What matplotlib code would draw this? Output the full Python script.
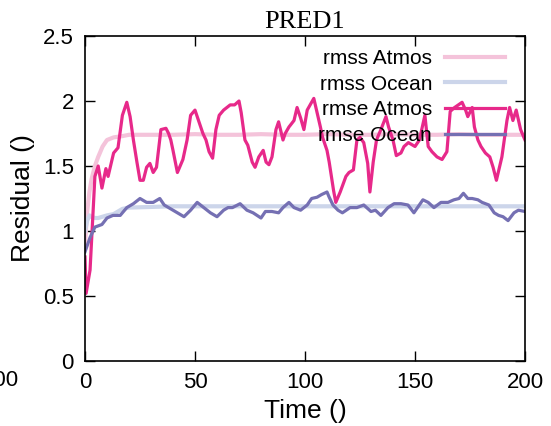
import matplotlib
matplotlib.use("Agg")
import matplotlib.pyplot as plt

# ensemble spread (rmss) - smooth curves
rmss_t = [0, 1, 2, 3, 4.5, 6, 8, 10, 13, 17, 20, 30, 40, 50, 60, 70, 80, 90, 100,
          110, 120, 130, 140, 150, 160, 170, 180, 190, 200]
rmss_atmos = [0.9, 1.15, 1.3, 1.4, 1.5, 1.57, 1.65, 1.70, 1.72, 1.73, 1.74, 1.74, 1.74,
              1.745, 1.74, 1.74, 1.745, 1.74, 1.74, 1.745, 1.74, 1.74, 1.745, 1.74,
              1.74, 1.745, 1.74, 1.74, 1.74]
rmss_ocean = [1.0, 1.08, 1.12, 1.11, 1.10, 1.10, 1.11, 1.12, 1.13, 1.17, 1.18, 1.185,
              1.19, 1.19, 1.19, 1.19, 1.19, 1.19, 1.19, 1.19, 1.19, 1.19, 1.19, 1.19,
              1.19, 1.19, 1.19, 1.19, 1.19]

# rmse Atmos
atm_t = [0, 0.5, 2.3, 4.5, 6, 7.7, 9.5, 10.5, 13, 15, 17, 19, 20.5, 22, 23.6, 25, 26.5,
         28, 29.5, 31, 32.5, 34.5, 36.8, 38, 39, 40, 42, 44.5, 46.4, 48, 50, 51, 53.6,
         55, 56.4, 58, 59.5, 61, 63, 66, 68, 70, 71, 72.7, 74, 76, 77.3, 79, 81, 82.3,
         83.6, 85, 86.8, 88, 90, 91, 92.7, 95, 96.4, 98, 99.5, 101, 104, 105.5, 107,
         108, 110, 111, 113, 114, 116, 118.6, 120, 122, 123.6, 125, 126.7, 128.5,
         129.5, 131, 132.5, 134.5, 136.8, 138, 140, 141.5, 143.6, 145, 147, 150, 152,
         154.5, 156, 157.7, 160, 162.3, 164.5, 166, 168, 171.4, 173, 174, 176, 177,
         178.6, 180, 182, 184, 185.5, 187, 189.5, 191.8, 193, 194.5, 196, 198, 200]
atm_v = [0.8, 0.52, 0.7, 1.42, 1.5, 1.33, 1.48, 1.42, 1.6, 1.64, 1.89, 1.99, 1.88, 1.70,
         1.53, 1.39, 1.39, 1.49, 1.52, 1.45, 1.49, 1.78, 1.79, 1.75, 1.70, 1.62, 1.45,
         1.55, 1.70, 1.89, 1.93, 1.88, 1.75, 1.70, 1.61, 1.56, 1.78, 1.89, 1.93, 1.97,
         1.97, 2.0, 1.91, 1.70, 1.66, 1.53, 1.49, 1.57, 1.62, 1.53, 1.51, 1.57, 1.78,
         1.84, 1.70, 1.75, 1.80, 1.85, 1.95, 1.87, 1.78, 1.93, 2.02, 1.91, 1.80, 1.72,
         1.62, 1.53, 1.31, 1.22, 1.30, 1.42, 1.45, 1.47, 1.70, 1.72, 1.68, 1.52, 1.30,
         1.53, 1.70, 1.78, 1.88, 1.80, 1.70, 1.58, 1.60, 1.65, 1.68, 1.65, 1.70, 1.89,
         1.65, 1.61, 1.57, 1.55, 1.61, 1.92, 1.95, 1.99, 1.93, 1.88, 1.95, 1.80, 1.70,
         1.65, 1.60, 1.57, 1.49, 1.39, 1.57, 1.85, 1.95, 1.85, 1.93, 1.78, 1.70]

# rmse Ocean
ocn_t = [0, 2.3, 4.5, 7.7, 10, 12.7, 16, 19, 22, 25, 28, 31, 34, 36, 40, 42, 45, 48, 51,
         54, 57, 60, 63, 65, 67, 70.5, 73.6, 76.4, 80, 82, 85, 88, 90, 92.7, 95, 98,
         101, 103, 105.5, 107.5, 110, 111, 112.7, 115, 117, 120.5, 123.6, 126.7, 130,
         132, 134.5, 137.7, 140.5, 143.6, 146.8, 149.5, 153.6, 156, 158.6, 161.8, 165,
         167.7, 170, 172, 174, 176, 178.6, 180.5, 183.6, 186, 188, 190, 192.3, 195,
         197, 200]
ocn_v = [0.84, 0.95, 1.03, 1.05, 1.10, 1.12, 1.12, 1.18, 1.21, 1.25, 1.22, 1.22, 1.25,
         1.20, 1.16, 1.14, 1.11, 1.16, 1.22, 1.18, 1.14, 1.11, 1.16, 1.18, 1.18, 1.21,
         1.16, 1.14, 1.10, 1.15, 1.15, 1.14, 1.18, 1.22, 1.18, 1.16, 1.20, 1.25, 1.26,
         1.28, 1.30, 1.26, 1.20, 1.16, 1.14, 1.18, 1.18, 1.20, 1.15, 1.16, 1.12, 1.18,
         1.21, 1.21, 1.20, 1.14, 1.24, 1.22, 1.18, 1.22, 1.22, 1.24, 1.25, 1.29, 1.25,
         1.25, 1.24, 1.22, 1.20, 1.14, 1.12, 1.11, 1.08, 1.14, 1.16, 1.15]

x_ticks = [0, 50, 100, 150, 200]
y_ticks = [0, 0.5, 1, 1.5, 2, 2.5]
y_tick_labels = ['0', '0.5', '1', '1.5', '2', '2.5']

plt.rcParams['font.family'] = ['Liberation Sans', 'DejaVu Sans']

fig = plt.figure(figsize=(5.51, 4.26), dpi=100)
ax = fig.add_axes([85 / 551, 1 - 361 / 426, 440 / 551, 325 / 426])

ax.plot(rmss_t, rmss_atmos, color='#f4c3da', lw=3.0, label='rmss Atmos')
ax.plot(rmss_t, rmss_ocean, color='#ccd5ea', lw=3.0, label='rmss Ocean')
ax.plot(atm_t, atm_v, color='#e7298a', lw=2.3, label='rmse Atmos')
ax.plot(ocn_t, ocn_v, color='#7570b3', lw=2.3, label='rmse Ocean')

ax.set_xlim(0, 200)
ax.set_ylim(0, 2.5)
ax.set_xticks(x_ticks)
ax.set_yticks(y_ticks)
ax.set_yticklabels(y_tick_labels)
ax.tick_params(direction='in', length=7, width=1, top=True, right=True,
               labelsize=16, pad=8)
for s in ax.spines.values():
    s.set_linewidth(1.2)

ax.set_xlabel('Time ()', fontsize=19, labelpad=4)
ax.set_ylabel('Residual ()', fontsize=19, labelpad=6)
ax.set_title('PRED1', fontsize=19, family=['Liberation Serif', 'DejaVu Serif'], pad=6)

leg = ax.legend(loc='upper right', bbox_to_anchor=((505 - 85) / 440, (361 - 49) / 325),
                frameon=False, markerfirst=False, fontsize=15, handlelength=2.9,
                handletextpad=0.6, labelspacing=0.32, borderaxespad=0, borderpad=0)
leg.set_zorder(5)

# stray tick label from a neighbouring panel, cut off at the left edge
fig.text(19 / 551, 1 - 381 / 426, '200', fontsize=16, ha='right', va='center')

fig.savefig('out.png', dpi=100)
